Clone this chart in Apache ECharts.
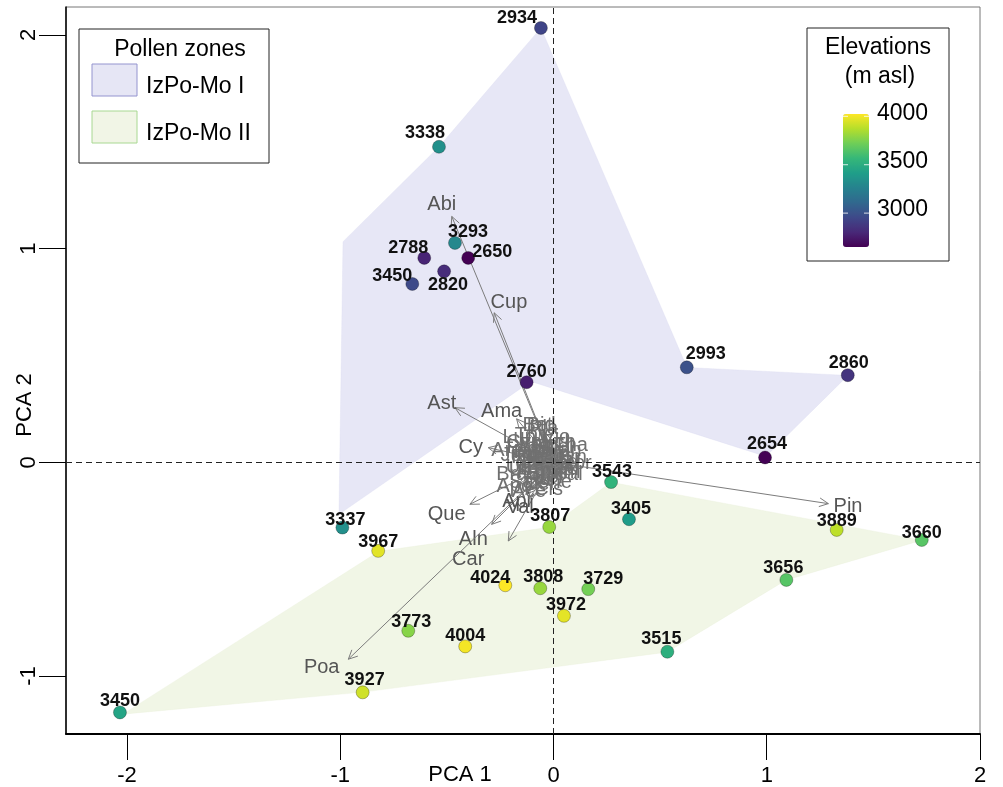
<!DOCTYPE html>
<html>
<head>
<meta charset="utf-8">
<title>PCA biplot</title>
<script src="https://cdn.jsdelivr.net/npm/echarts@6/dist/echarts.min.js"></script>
<style>
  html, body { margin: 0; padding: 0; background: #fff; }
  #chart { width: 1003px; height: 787px; }
</style>
</head>
<body>
<div id="chart"></div>
<script>
const FONT = '"Liberation Sans", Arial, Helvetica, sans-serif'

// samples (PCA scores)
const sampleNames = ['2934', '3338', '3293', '2788', '2650', '2820', '3450', '2760', '2993', '2860', '2654',
  '3543', '3405', '3337', '3807', '3889', '3660', '3967', '4024', '3808', '3729', '3656', '3972', '3773',
  '4004', '3515', '3927', '3450']
const pca1 = [-0.059, -0.537, -0.462, -0.606, -0.400, -0.513, -0.662, -0.126, 0.625, 1.380, 0.992,
  0.270, 0.354, -0.990, -0.020, 1.328, 1.727, -0.822, -0.226, -0.062, 0.163, 1.092, 0.049, -0.681,
  -0.414, 0.534, -0.895, -2.033]
const pca2 = [2.033, 1.477, 1.027, 0.957, 0.957, 0.894, 0.835, 0.375, 0.445, 0.408, 0.023,
  -0.092, -0.266, -0.305, -0.302, -0.316, -0.363, -0.414, -0.575, -0.589, -0.593, -0.550, -0.718, -0.788,
  -0.861, -0.886, -1.076, -1.170]
const elevation = [2934, 3338, 3293, 2788, 2650, 2820, 2960, 2760, 2993, 2860, 2654,
  3543, 3405, 3337, 3807, 3889, 3660, 3967, 4024, 3808, 3729, 3656, 3972, 3773,
  4004, 3515, 3927, 3450]

// pollen zone outlines
const zone1X = [-0.059, 0.626, 1.381, 0.996, -0.106, -1.006, -0.987, -0.537]
const zone1Y = [2.033, 0.444, 0.407, 0.028, 0.379, -0.243, 1.033, 1.477]
const zone2X = [-2.019, -0.818, -0.021, 0.270, 1.728, 1.090, 0.532, -0.893]
const zone2Y = [-1.178, -0.416, -0.304, -0.093, -0.364, -0.551, -0.888, -1.075]

// taxa loadings, long arrows with their label spots
const taxaMain = ['Abi', 'Cup', 'Ast', 'Ama', 'Cy', 'Pin', 'Que', 'Aln', 'Car', 'Poa', 'Api', 'Val']
const mainX = [-0.477, -0.278, -0.462, -0.173, -0.306, 1.289, -0.392, -0.290, -0.212, -0.962, -0.130, -0.115]
const mainY = [1.151, 0.700, 0.256, 0.204, 0.069, -0.193, -0.196, -0.290, -0.368, -0.921, -0.150, -0.170]
const mainLabelX = [-0.524, -0.209, -0.524, -0.243, -0.388, 1.381, -0.501, -0.376, -0.400, -1.087, -0.173, -0.157]
const mainLabelY = [1.209, 0.749, 0.276, 0.237, 0.071, -0.204, -0.243, -0.360, -0.453, -0.959, -0.181, -0.210]

// taxa loadings, short arrows near origin
const taxaMinor = ['Bet', 'Bid', 'Pla', 'Vio', 'Are', 'Jun', 'Bra', 'Cor', 'Ros', 'Del', 'Eri', 'Ran',
  'Cyp', 'Lam', 'Fab', 'Rum', 'Ger', 'Sax', 'Ech', 'Urt', 'Che', 'Pol', 'Sal', 'Thy', 'Gen', 'Pot',
  'Tha', 'Hyp', 'Apo', 'Cis', 'Ped', 'Eph', 'Ace', 'Fra', 'Lup',
  'Oxa', 'Cam', 'Sol', 'Tri', 'Lil', 'Mal', 'Ste', 'Sil', 'Gal', 'Pru', 'Vac', 'Rub', 'Lyc', 'Equ',
  'Sel', 'Pte', 'Myr', 'Cel', 'Ulm', 'Til']
const minorX = [-0.065, -0.050, -0.040, 0.010, -0.190, -0.150, -0.170, 0.090, -0.100, -0.060, -0.030, 0.040,
  -0.120, 0.030, -0.080, 0.050, -0.020, -0.110, 0.020, -0.140, 0.000, -0.050, 0.060, -0.090, -0.010, -0.130,
  0.070, -0.040, -0.160, -0.020, 0.030, -0.070, -0.100, 0.010, -0.140,
  -0.030, -0.070, 0.020, -0.050, -0.090, 0.000, -0.020, -0.060, 0.040, -0.100, -0.010, -0.040, 0.010, -0.080,
  0.050, -0.030, -0.060, 0.020, -0.110, 0.000]
const minorY = [0.150, 0.150, 0.140, 0.100, 0.048, 0.030, -0.050, -0.004, 0.020, -0.090, 0.060, 0.050,
  0.080, -0.040, -0.040, 0.020, -0.060, -0.080, 0.080, -0.020, -0.080, 0.010, -0.050, 0.110, 0.030, 0.060,
  0.070, -0.030, -0.100, -0.110, 0.000, 0.070, -0.120, -0.020, 0.100,
  0.020, -0.010, -0.010, 0.040, 0.000, 0.050, -0.030, -0.050, -0.030, 0.040, 0.010, -0.070, 0.030, 0.030,
  -0.010, -0.010, 0.020, 0.060, -0.030, -0.050]

const xTicks = [-2, -1, 0, 1, 2]
const yTicks = [-1, 0, 1, 2]
const elevTicks = [3000, 3500, 4000]

// label nudges (px) for the sample numbers
const labelNudge = [[-24, -10], [-14, -14], [13, -11], [-16, -10], [24, -6], [4, 14], [-20, -8], [0, -10],
  [19, -13], [1, -12], [2, -13], [1, -10], [2, -10], [3, -8], [1, -11], [0, -9], [0, -7], [0, -9],
  [-15, -7], [3, -11], [15, -10], [-3, -12], [2, -11], [3, -9], [0, -10], [-6, -13], [2, -12], [0, -11]]

const viridis = ['#440154', '#482878', '#3e4989', '#31688e', '#26828e', '#1f9e89', '#35b779', '#6ece58', '#b5de2b', '#fde725']
const elevMin = Math.min(...elevation)
const elevMax = Math.max(...elevation)
const bar = { left: 843, top: 114, width: 26, height: 133 }

const chart = echarts.init(document.getElementById('chart'))

function hullSeries (xs, ys, fill, stroke) {
  return {
    type: 'custom',
    z: 1,
    silent: true,
    data: xs.map((x, i) => [x, ys[i]]),
    renderItem (params, api) {
      if (params.dataIndex !== 0) return
      const pts = xs.map((x, i) => api.coord([x, ys[i]]))
      return { type: 'polygon', shape: { points: pts }, style: { fill, stroke, lineWidth: 1 } }
    }
  }
}

const arrowNames = taxaMain.concat(taxaMinor)
const arrowData = taxaMain.map((t, i) => [mainX[i], mainY[i], mainLabelX[i], mainLabelY[i]])
  .concat(taxaMinor.map((t, i) => [minorX[i], minorY[i], minorX[i] * 1.15, minorY[i] * 1.15]))

const gText = (text, x, y, opt = {}) => ({
  type: 'text',
  x,
  y,
  z: 20,
  rotation: opt.rotation || 0,
  style: {
    text,
    fill: '#000',
    fontSize: opt.fontSize || 23,
    fontFamily: FONT,
    align: opt.align || 'center',
    verticalAlign: 'middle'
  }
})

const elevY = v => bar.top + (elevMax - v) / (elevMax - elevMin) * bar.height

const graphics = [
  // pollen zones legend
  { type: 'rect', z: 15, shape: { x: 79, y: 29, width: 190, height: 134 }, style: { fill: '#fff', stroke: '#222', lineWidth: 1 } },
  gText('Pollen zones', 180, 50),
  { type: 'rect', z: 16, shape: { x: 92, y: 64, width: 45, height: 32 }, style: { fill: '#e6e6f5', stroke: '#9494cf', lineWidth: 1 } },
  gText('IzPo-Mo I', 146, 87, { align: 'left' }),
  { type: 'rect', z: 16, shape: { x: 92, y: 111, width: 45, height: 32 }, style: { fill: '#f1f5e6', stroke: '#a8d892', lineWidth: 1 } },
  gText('IzPo-Mo II', 146, 134, { align: 'left' }),
  // elevation legend
  { type: 'rect', z: 15, shape: { x: 807, y: 28, width: 142, height: 233 }, style: { fill: '#fff', stroke: '#222', lineWidth: 1 } },
  gText('Elevations', 878, 48),
  gText('(m asl)', 880, 77),
  // axis titles
  gText('PCA 1', 460, 775, { fontSize: 22 }),
  gText('PCA 2', 25, 405, { fontSize: 22, rotation: Math.PI / 2 })
]
elevTicks.forEach(v => {
  const y = elevY(v)
  graphics.push(gText(String(v), 877, y - 3, { align: 'left' }))
  graphics.push({ type: 'line', z: 30, shape: { x1: bar.left, y1: y, x2: bar.left + 5, y2: y }, style: { stroke: 'rgba(255,255,255,0.8)', lineWidth: 1 } })
  graphics.push({ type: 'line', z: 30, shape: { x1: bar.left + bar.width - 5, y1: y, x2: bar.left + bar.width, y2: y }, style: { stroke: 'rgba(255,255,255,0.8)', lineWidth: 1 } })
})

chart.setOption({
  animation: false,
  backgroundColor: '#fff',
  grid: {
    left: 66,
    right: 23,
    top: 7,
    bottom: 52,
    show: true,
    borderColor: '#777',
    borderWidth: 1
  },
  xAxis: {
    type: 'value',
    min: -2.286,
    max: 2.0,
    axisLine: { show: true, onZero: false, lineStyle: { color: '#000', width: 2 } },
    axisTick: { show: true, customValues: xTicks, length: 26, lineStyle: { color: '#000', width: 1 } },
    axisLabel: { customValues: xTicks, fontSize: 22, color: '#000', margin: 31, fontFamily: FONT },
    splitLine: { show: false }
  },
  yAxis: {
    type: 'value',
    min: -1.271,
    max: 2.131,
    axisLine: { show: true, onZero: false, lineStyle: { color: '#000', width: 1.5 } },
    axisTick: { show: true, customValues: yTicks, length: 27, lineStyle: { color: '#000', width: 1 } },
    axisLabel: { customValues: yTicks, fontSize: 22, color: '#000', margin: 26, rotate: 90, fontFamily: FONT },
    splitLine: { show: false }
  },
  visualMap: {
    type: 'continuous',
    min: elevMin,
    max: elevMax,
    dimension: 2,
    seriesIndex: 3,
    calculable: false,
    hoverLink: false,
    show: true,
    left: bar.left,
    top: bar.top,
    itemWidth: bar.width,
    itemHeight: bar.height,
    padding: 0,
    z: 18,
    inRange: { color: viridis }
  },
  graphic: graphics,
  series: [
    hullSeries(zone1X, zone1Y, 'rgba(215,215,240,0.6)', 'rgba(215,215,240,0.3)'),
    Object.assign(hullSeries(zone2X, zone2Y, 'rgba(232,240,214,0.6)', 'rgba(232,240,214,0.3)'), {
      markLine: {
        silent: true,
        symbol: 'none',
        label: { show: false },
        lineStyle: { color: '#222', type: [6, 4], width: 1 },
        data: [{ xAxis: 0 }, { yAxis: 0 }]
      }
    }),
    {
      type: 'custom',
      z: 3,
      silent: true,
      data: arrowData,
      encode: { x: [0, 2], y: [1, 3] },
      renderItem (params, api) {
        const i = params.dataIndex
        const main = i < taxaMain.length
        const o = api.coord([0, 0])
        const t = api.coord([api.value(0), api.value(1)])
        const l = api.coord([api.value(2), api.value(3)])
        const ang = Math.atan2(t[1] - o[1], t[0] - o[0])
        const h = 10
        const a = 0.45
        const p1 = [t[0] - h * Math.cos(ang - a), t[1] - h * Math.sin(ang - a)]
        const p2 = [t[0] - h * Math.cos(ang + a), t[1] - h * Math.sin(ang + a)]
        return {
          type: 'group',
          children: [
            { type: 'line', shape: { x1: o[0], y1: o[1], x2: t[0], y2: t[1] }, style: { stroke: '#7c7c7c', lineWidth: 1 } },
            { type: 'polyline', shape: { points: [p1, t, p2] }, style: { stroke: '#7c7c7c', lineWidth: 1, fill: null } },
            {
              type: 'text',
              x: l[0],
              y: l[1],
              style: {
                text: arrowNames[i],
                fill: main ? '#555' : '#707070',
                fontSize: 20,
                fontFamily: FONT,
                align: 'center',
                verticalAlign: 'middle'
              }
            }
          ]
        }
      }
    },
    {
      type: 'scatter',
      z: 5,
      symbolSize: 13,
      itemStyle: { borderColor: 'rgba(0,0,0,0.35)', borderWidth: 0.8, opacity: 1 },
      label: {
        show: true,
        position: 'inside',
        formatter: p => p.name,
        color: '#111',
        fontWeight: 'bold',
        fontSize: 18,
        fontFamily: FONT
      },
      data: sampleNames.map((n, i) => ({
        name: n,
        value: [pca1[i], pca2[i], elevation[i]],
        label: { offset: labelNudge[i] }
      }))
    }
  ]
})
</script>
</body>
</html>
